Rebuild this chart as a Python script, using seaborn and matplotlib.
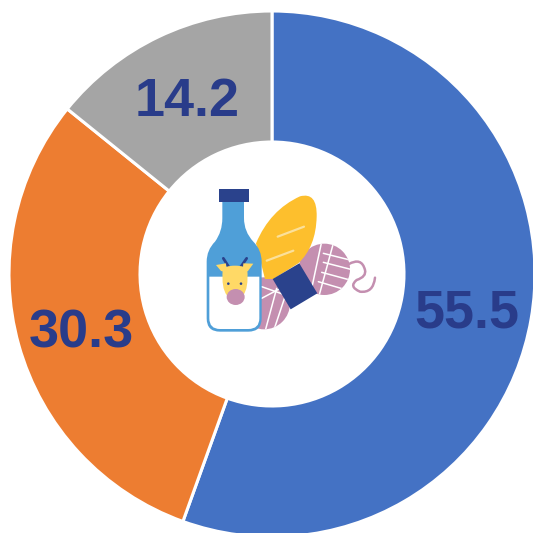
import matplotlib
matplotlib.use('Agg')
import matplotlib.pyplot as plt
import seaborn as sns
from matplotlib.patches import PathPatch, Polygon, Circle, Ellipse
from matplotlib.path import Path

shares = [55.5, 30.3, 14.2]
share_labels = ['55.5', '30.3', '14.2']
slice_colors = ['#4472C4', '#ED7D31', '#A5A5A5']

sns.set_theme(style='white')
plt.rcParams['font.family'] = ['Liberation Sans', 'DejaVu Sans']

fig = plt.figure(figsize=(5.33, 5.33), dpi=100, facecolor='white')
ax = fig.add_axes([0, 0, 1, 1])

# donut, clockwise from 12 o'clock
ax.pie(
    shares,
    colors=sns.color_palette(slice_colors),
    startangle=90,
    counterclock=False,
    center=(272, 259),
    radius=263,
    frame=True,
    wedgeprops={'width': 131, 'edgecolor': 'white', 'linewidth': 2.2},
)
ax.set_xlim(0, 533)
ax.set_ylim(0, 533)
ax.set_aspect('equal')
ax.axis('off')

# value labels
label_pos = [(467, 220), (81, 200), (187, 431)]
for txt, (x, y) in zip(share_labels, label_pos):
    ax.text(x, y, txt, ha='center', va='center', fontsize=38.8, fontweight='bold', color='#293C8A')


# icon in the hole, points given in a 3x grid over the picture region
def z(zx, zy):
    return (190 + zx / 3, 533 - (175 + zy / 3))


def curve(points, codes, **kw):
    p = PathPatch(Path([z(*q) for q in points], codes), **kw)
    ax.add_patch(p)
    return p


M, L, C = Path.MOVETO, Path.LINETO, Path.CURVE3
pink = '#C48FB0'
navy = '#2A428C'
blue = '#4F9FD8'
cow = '#FFD966'

# yarn balls
yarn_a = Circle(z(222, 385), 78 / 3, fc=pink, ec='none', zorder=3)
yarn_b = Circle(z(403, 283), 77 / 3, fc=pink, ec='none', zorder=3)
ax.add_patch(yarn_a)
ax.add_patch(yarn_b)
for a, b in [((215, 335), (300, 365)), ((215, 370), (290, 330)), ((260, 340), (225, 470)), ((290, 350), (250, 470))]:
    ln, = ax.plot(*zip(z(*a), z(*b)), color='white', lw=1.1, zorder=3.1)
    ln.set_clip_path(yarn_a)
for a, b in [((395, 200), (365, 340)), ((430, 205), (385, 370)), ((400, 235), (480, 255)), ((400, 262), (490, 285)), ((395, 292), (480, 315)), ((385, 320), (470, 345))]:
    ln, = ax.plot(*zip(z(*a), z(*b)), color='white', lw=1.1, zorder=3.1)
    ln.set_clip_path(yarn_b)
curve(
    [(475, 268), (515, 245), (525, 285), (530, 305), (500, 315), (475, 335), (510, 350), (550, 355), (555, 308)],
    [M, C, C, C, C, C, C, C, C],
    fc='none', ec=pink, lw=1.8, capstyle='round', zorder=3,
)

# bread
curve(
    [(198, 205), (240, 105), (330, 64), (382, 50), (380, 125), (378, 215), (325, 265), (250, 312), (225, 312), (198, 205)],
    [M, C, C, C, C, C, C, L, L, L],
    fc='#FDBF2D', ec='none', zorder=4,
)
for a, b in [((263, 185), (342, 155)), ((230, 257), (310, 227))]:
    ax.plot(*zip(z(*a), z(*b)), color='#FBE09A', lw=1.6, solid_capstyle='round', zorder=4.1)

# wrap around the yarn
ax.add_patch(Polygon([z(248, 312), z(328, 265), z(382, 355), z(302, 403)], fc=navy, ec='none', zorder=5))

# bottle
curve(
    [(97, 80), (162, 80), (162, 130), (162, 170), (190, 200), (215, 225), (215, 260), (215, 430),
     (215, 470), (175, 470), (90, 470), (50, 470), (50, 430), (50, 260), (50, 225), (75, 200), (97, 170), (97, 130), (97, 80)],
    [M, L, L, C, C, C, C, L, C, C, L, C, C, L, C, C, C, C, L],
    fc=blue, ec='none', zorder=6,
)
curve(
    [(58, 305), (208, 305), (208, 430), (208, 462), (175, 462), (90, 462), (58, 462), (58, 430), (58, 305)],
    [M, L, L, C, C, L, C, C, L],
    fc='white', ec='none', zorder=6.1,
)
ax.add_patch(Polygon([z(88, 42), z(177, 42), z(177, 82), z(88, 82)], fc=navy, ec='none', zorder=6.2))

# cow
ax.plot(*zip(z(122, 285), z(100, 250)), color=navy, lw=2, zorder=6.3)
ax.plot(*zip(z(146, 285), z(170, 250)), color=navy, lw=2, zorder=6.3)
ax.add_patch(Polygon([z(78, 270), z(108, 265), z(110, 292), z(93, 288)], fc=cow, ec='none', zorder=6.4))
ax.add_patch(Polygon([z(190, 266), z(160, 265), z(158, 292), z(174, 288)], fc=cow, ec='none', zorder=6.4))
curve(
    [(98, 285), (103, 272), (135, 272), (167, 272), (172, 285), (176, 340), (160, 360), (135, 378), (110, 360), (94, 340), (98, 285)],
    [M, C, C, C, C, C, C, C, C, C, C],
    fc=cow, ec='none', zorder=6.4,
)
ax.add_patch(Ellipse(z(137, 366), 54 / 3, 48 / 3, fc=pink, ec='none', zorder=6.5))
for ex in (115, 153):
    ax.add_patch(Circle(z(ex, 326), 1.3, fc=navy, ec='none', zorder=6.6))

fig.savefig('out.png', dpi=100, facecolor='white')
